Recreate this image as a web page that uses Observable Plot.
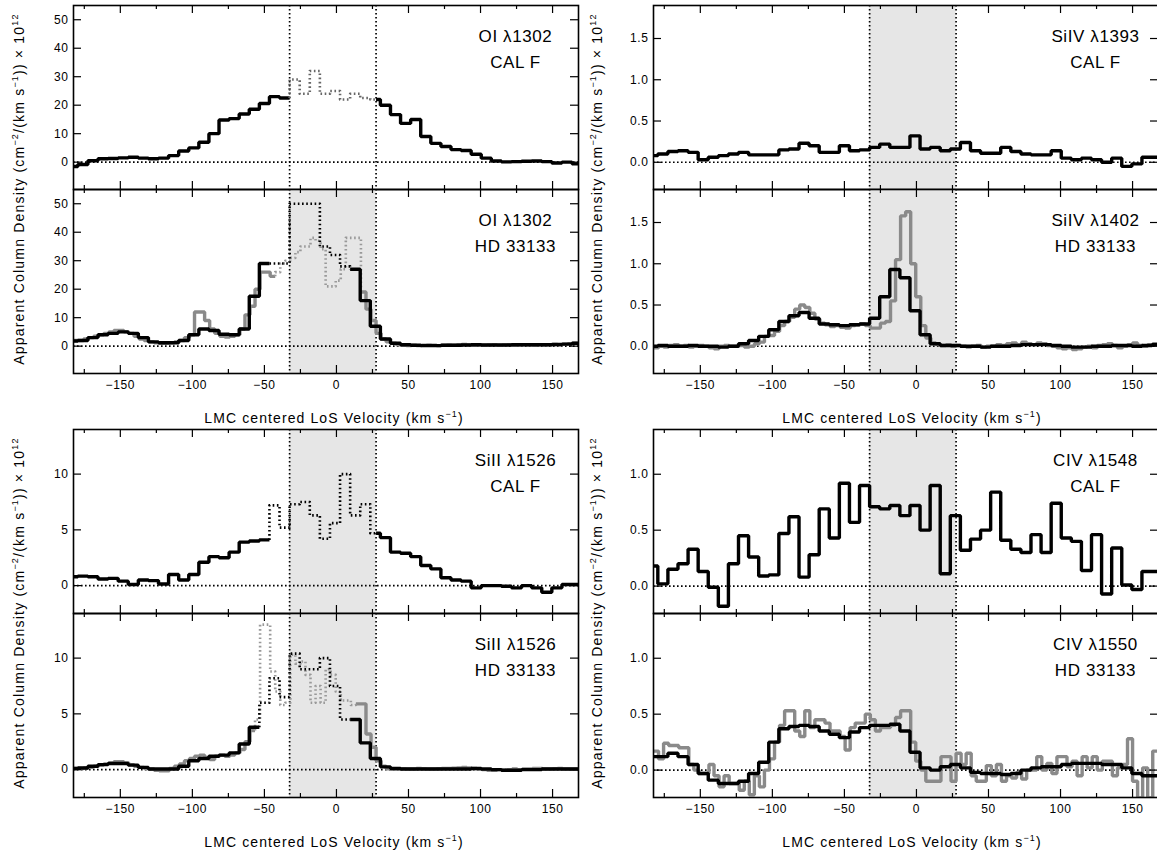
<!DOCTYPE html>
<html><head><meta charset="utf-8">
<script src="https://cdn.jsdelivr.net/npm/d3@7"></script>
<script src="https://cdn.jsdelivr.net/npm/@observablehq/plot@0.6"></script>
<style>
body{margin:0;background:#fff;font-family:"Liberation Sans",Arial,Helvetica,sans-serif;}
#root{position:relative;width:1157px;height:855px;overflow:hidden;background:#fff;}
.pn{position:absolute;}
.yt{position:absolute;transform:translate(-50%,-50%) rotate(-90deg);white-space:nowrap;font-size:14px;letter-spacing:1.2px;color:#000;z-index:5;}
.xt{position:absolute;transform:translate(-50%,-50%);white-space:nowrap;font-size:14px;letter-spacing:1.1px;color:#000;z-index:5;}
sup{font-size:9px;line-height:0;}
</style></head><body><div id="root"></div>
<script>
// ---------- data ----------
const vCoarse = [-183,-176,-169,-162,-155,-148,-141,-134,-127,-120,-113,-106,-99,-92,-85,-78,-71,-64,-57,-50,-43,-36,-29,-22,-15,-8,-1,6,13,20,27,34,41,48,55,62,69,76,83,90,97,104,111,118,125,132,139,146,153,160,167];
const vFine = [-180.75,-177.25,-173.75,-170.25,-166.75,-163.25,-159.75,-156.25,-152.75,-149.25,-145.75,-142.25,-138.75,-135.25,-131.75,-128.25,-124.75,-121.25,-117.75,-114.25,-110.75,-107.25,-103.75,-100.25,-96.75,-93.25,-89.75,-86.25,-82.75,-79.25,-75.75,-72.25,-68.75,-65.25,-61.75,-58.25,-54.75,-51.25,-47.75,-44.25,-40.75,-37.25,-33.75,-30.25,-26.75,-23.25,-19.75,-16.25,-12.75,-9.25,-5.75,-2.25,1.25,4.75,8.25,11.75,15.25,18.75,22.25,25.75,29.25,32.75,36.25,39.75,43.25,46.75,50.25,53.75,57.25,60.75,64.25,67.75,71.25,74.75,78.25,81.75,85.25,88.75,92.25,95.75,99.25,102.75,106.25,109.75,113.25,116.75,120.25,123.75,127.25,130.75,134.25,137.75,141.25,144.75,148.25,151.75,155.25,158.75,162.25,165.75];
const coarseWidth = 7, fineWidth = 3.5;

const oiCalF = [-1.5,-0.8,0.5,1.2,1.3,1.5,1.7,1.4,1.2,1.4, 2.3,3.9,5.0,7.0,10.0,14.8,15.3,16.9,18.6,20.6, 23.0,22.5,29,24,32,24,25,22,24,22.5, 22,20,16.7,13.6,15,9,6.6,5.5,4.4,4.1, 2.8,1.4,0.4,0.1,0.2,0.3,0.4,0.2,-0.3,0, -0.6];
const oiHdBlack = [1.8,2.0,3.0,4.0,4.5,5.0,4.5,3.0,1.5,1.2, 1.2,2.0,4.0,6.0,5.5,4.2,4.0,6.0,17.5,29.0, 29.0,29.0,50,50,50,35,32,28,27,16, 7,2.5,1.0,0.5,0.3,0.2,0.2,0.3,0.3,0.4, 0.5,0.4,0.4,0.4,0.5,0.5,0.5,0.5,0.6,0.7, 1.0];
const oiHdGray = [2.0,2.0,2.5,3.0,3.5,4.0,4.5,5.0,5.5,5.5, 5.0,4.5,3.5,2.5,2.0,1.5,1.2,1.0,1.0,1.2, 1.5,2.0,3.0,4.0,12.0,12.0,9.0,6.0,4.5,3.5, 3.2,3.5,4.0,6.0,11.0,14,20,26,26,24.5, 26,29,30,31,33,35,35,38,37,34, 21,21,23,27,38,38,38,19,13,9, 4.5,2.5,1.5,1.0,0.5,0.3,0.2,0.3,0.2,0.3, 0.4,0.3,0.2,0.3,0.4,0.3,0.5,0.6,0.4,0.3, 0.4,0.3,0.4,0.5,0.3,0.4,0.5,0.3,0.4,0.5, 0.4,0.3,0.5,0.4,0.5,0.6,0.5,0.7,0.9,1.0];

const siivCalF = [0.08,0.10,0.13,0.14,0.12,0.03,0.06,0.08,0.10,0.12, 0.09,0.09,0.09,0.15,0.16,0.23,0.20,0.12,0.12,0.20, 0.14,0.15,0.18,0.22,0.18,0.18,0.32,0.16,0.18,0.14, 0.16,0.24,0.14,0.11,0.11,0.18,0.13,0.10,0.09,0.09, 0.14,0.05,0.03,0.05,0.03,0.00,0.05,-0.05,-0.02,0.06, 0.06];
const siivHdBlack = [0.0,0.01,0.0,0.0,0.01,0.0,0.0,-0.01,0.0, 0.03,0.07,0.12,0.20,0.30,0.37,0.41,0.34,0.27,0.26,0.25,0.26,0.27,0.34,0.60,0.93,0.83,0.43,0.14,0.03,0.01, 0.01,0.0,0.0,-0.01,0.0,0.0,0.01,0.02,0.02,0.02,0.01,0.0,-0.01,-0.01,0.0,0.0,0.01,0.01,0.0,0.01,0.02];
const siivHdGray = [-0.02,0.0,-0.01,0.01,0.02,0.0,0.01,-0.01,0.0,0.01, 0.0,-0.02,-0.03,0.0,0.01,0.0,0.0,0.01,-0.01,0.0, 0.03,0.05,0.12,0.13,0.18,0.25,0.30,0.35,0.45,0.50, 0.47,0.40,0.33,0.28,0.26,0.24,0.25,0.23,0.22,0.25, 0.26,0.27,0.25,0.22,0.22,0.28,0.30,0.55,1.05,1.58, 1.63,1.00,0.60,0.25,0.10,0.04,0.02,0.01,0.02,0.0, 0.01,0.0,-0.01,0.0,0.01,-0.01,0.0,0.0,0.02,0.01, 0.03,0.04,0.02,0.05,0.03,0.02,0.04,0.03,0.01,0.0, -0.02,-0.03,-0.02,-0.04,-0.03,-0.01,0.0,-0.02,0.01,0.02, 0.03,0.01,-0.02,0.0,0.02,0.04,0.01,0.0,0.02,0.03];

const siiCalF = [0.8,0.85,0.8,0.6,0.65,0.4,0.1,0.5,0.45,0.15, 1.0,0.5,1.0,2.1,2.6,2.5,3.0,3.9,4.0,4.1, 7.2,5.2,7.3,7.5,6.3,4.2,5.6,10.0,6.3,7.3, 4.7,4.3,3.0,2.9,2.6,1.8,1.5,0.7,0.5,0.4, -0.2,0.0,0.0,-0.05,-0.2,0.0,-0.2,-0.6,-0.2,0.1, 0.1];
const siiHdBlack = [0.1,0.15,0.3,0.45,0.55,0.55,0.4,0.2,0.05,0.05, 0.05,0.3,0.8,1.0,1.2,1.3,1.5,2.3,3.8,6.0, 8.2,6.5,10.4,9.0,9.0,10.0,7.5,4.5,4.5,2.4, 1.0,0.25,0.1,0.05,0.05,0.05,0.05,0.05,0.05,0.05, 0.1,0.05,0.0,-0.05,-0.05,0.0,0.0,0.05,0.05,0.05, 0.05];
const siiHdGray = [0.1,0.1,0.15,0.2,0.3,0.4,0.5,0.6,0.7,0.7, 0.6,0.45,0.3,0.2,0.1,0.05,-0.05,-0.1,-0.1,0.1, 0.3,0.5,0.8,1.0,1.2,1.3,1.1,0.9,1.2,1.3, 1.2,1.3,1.5,1.8,2.5,3.5,4.5,13,13,8.8, 7.0,5.8,6.0,10.3,9.5,9.7,8.5,6.0,7.5,6.0, 9.0,8.5,7.0,6.2,6.2,5.8,5.9,5.9,3.2,2.0, 0.8,0.3,0.08,0.05,0.05,0.08,0.05,0.05,0.1,0.08, 0.05,0.05,0.08,0.1,0.1,0.12,0.15,0.2,0.15,0.1, 0.05,0.0,-0.05,-0.05,0.0,-0.05,0.0,0.05,0.0,0.05, 0.05,0.1,0.1,0.05,0.05,0.08,0.1,0.05,0.05,0.05];

const civCalF = [0.18,0.02,0.15,0.20,0.33,0.13,-0.01,-0.18,0.20,0.45, 0.26,0.09,0.10,0.47,0.62,0.08,0.28,0.69,0.43,0.92, 0.57,0.90,0.71,0.69,0.72,0.63,0.72,0.50,0.90,0.11, 0.63,0.32,0.42,0.50,0.84,0.41,0.33,0.30,0.46,0.30, 0.74,0.43,0.40,0.14,0.46,-0.07,0.34,0.01,-0.03,0.13, 0.13];
const civHdBlack = [0.12,0.12,0.15,0.12,0.05,-0.03,-0.09,-0.12,-0.12,-0.10, -0.03,0.07,0.25,0.37,0.39,0.40,0.39,0.35,0.32,0.29, 0.34,0.38,0.40,0.40,0.41,0.35,0.16,0.02,0.00,0.03, 0.05,0.02,-0.02,-0.03,-0.03,-0.04,-0.03,0.00,0.02,0.03, 0.03,0.05,0.06,0.06,0.06,0.05,0.05,0.02,-0.03,-0.05, -0.05];
const civHdGray = [0.17,0.10,0.24,0.22,0.22,0.20,0.20,0.05,0.00,-0.03, -0.03,0.05,-0.05,-0.15,-0.05,-0.12,-0.12,-0.18,-0.10,-0.22, -0.05,-0.15,0.00,0.10,0.25,0.40,0.53,0.53,0.35,0.30, 0.53,0.38,0.45,0.45,0.42,0.35,0.35,0.30,0.18,0.38, 0.42,0.42,0.50,0.45,0.35,0.38,0.38,0.40,0.47,0.53, 0.53,0.25,0.08,0.00,-0.10,-0.10,-0.10,0.12,0.12,-0.10, 0.15,0.05,0.15,-0.05,-0.10,-0.10,0.04,-0.05,0.05,-0.10, -0.05,-0.07,-0.02,-0.08,0.00,0.00,0.12,0.00,0.06,-0.03, 0.12,0.12,0.03,0.08,-0.05,0.12,0.02,0.12,0.00,0.08, 0.08,-0.05,0.02,0.05,0.28,-0.10,-0.25,0.02,-0.25,0.17];

const velWindow = [-32.5, 27.5];
const xDomain = [-182.5, 168];
const xTicksMajor = [-150,-100,-50,0,50,100,150];
const xTicksMinor = [-175,-125,-75,-25,25,75,125];
const oiTicks = [0,10,20,30,40,50];
const siivTicks = [0,0.5,1,1.5];
const siiTicks = [0,5,10];
const civTicks = [0,0.5,1];
const oiDomain = [-9.6, 55];
const siivDomain = [-0.33, 1.9];
const siiDomain = [-2.5, 14];
const civDomain = [-0.245, 1.4];
const noDots = [Infinity, Infinity];

// ---------- helpers ----------
const FW = 505, FH = 184, ML = 60, MR = 2, MT = 2;
function steps(vs, ys, w) {
  const pts = [];
  vs.forEach((v, i) => { pts.push({v: v - w / 2, y: ys[i]}, {v: v + w / 2, y: ys[i]}); });
  return pts;
}
function splitLine(pts, lo, hi) {
  const out = []; let cur = null, id = 0;
  const region = (p, q) => {
    if (p.v === q.v && (p.v === lo || p.v === hi)) return "dot";
    const x = (p.v + q.v) / 2;
    return (x > lo && x < hi) ? "dot" : "solid";
  };
  for (let i = 0; i < pts.length - 1; i++) {
    const a = pts[i], b = pts[i + 1];
    const cuts = [a];
    for (const c of [lo, hi]) if (a.v < c && b.v > c) cuts.push({v: c, y: a.y});
    cuts.push(b);
    for (let j = 0; j < cuts.length - 1; j++) {
      const p = cuts[j], q = cuts[j + 1];
      const r = region(p, q);
      if (!cur || cur.r !== r) { cur = {r, id: id++}; out.push({v: p.v, y: p.y, r, id: cur.id}); }
      out.push({v: q.v, y: q.y, r, id: cur.id});
    }
  }
  return out;
}
const black = "#000", gray = "#8a8a8a";
const fmtInt = d3.format("d"), fmt1 = d3.format(".1f");

const panels = [
  {left: 73.3, top: 5, xAxis: false, shade: false, label: ["OI \u03bb1302", "CAL F"], yDomain: oiDomain, yTicks: oiTicks, fmt: fmtInt,
   series: [{v: vCoarse, y: oiCalF, w: coarseWidth, color: black, dot: velWindow, dotColor: "#666"}]},
  {left: 73.3, top: 189, xAxis: true, shade: true, label: ["OI \u03bb1302", "HD 33133"], yDomain: oiDomain, yTicks: oiTicks, fmt: fmtInt,
   series: [{v: vFine, y: oiHdGray, w: fineWidth, color: gray, dot: [-42.5, 17], dotColor: "#999"},
            {v: vCoarse, y: oiHdBlack, w: coarseWidth, color: black, dot: [-46.5, 9.5], dotColor: "#000"}]},
  {left: 652.7, top: 5, xAxis: false, shade: true, label: ["SiIV \u03bb1393", "CAL F"], yDomain: siivDomain, yTicks: siivTicks, fmt: fmt1,
   series: [{v: vCoarse, y: siivCalF, w: coarseWidth, color: black, dot: noDots}]},
  {left: 652.7, top: 189, xAxis: true, shade: true, label: ["SiIV \u03bb1402", "HD 33133"], yDomain: siivDomain, yTicks: siivTicks, fmt: fmt1,
   series: [{v: vFine, y: siivHdGray, w: fineWidth, color: gray, dot: noDots},
            {v: vCoarse, y: siivHdBlack, w: coarseWidth, color: black, dot: noDots}]},
  {left: 73.3, top: 429, xAxis: false, shade: true, label: ["SiII \u03bb1526", "CAL F"], yDomain: siiDomain, yTicks: siiTicks, fmt: fmtInt,
   series: [{v: vCoarse, y: siiCalF, w: coarseWidth, color: black, dot: [-46.5, 27.5], dotColor: "#000"}]},
  {left: 73.3, top: 613, xAxis: true, shade: true, label: ["SiII \u03bb1526", "HD 33133"], yDomain: siiDomain, yTicks: siiTicks, fmt: fmtInt,
   series: [{v: vFine, y: siiHdGray, w: fineWidth, color: gray, dot: [-56.5, 13.5], dotColor: "#999"},
            {v: vCoarse, y: siiHdBlack, w: coarseWidth, color: black, dot: [-53.5, 9.5], dotColor: "#000"}]},
  {left: 652.7, top: 429, xAxis: false, shade: true, label: ["CIV \u03bb1548", "CAL F"], yDomain: civDomain, yTicks: civTicks, fmt: fmt1,
   series: [{v: vCoarse, y: civCalF, w: coarseWidth, color: black, dot: noDots}]},
  {left: 652.7, top: 613, xAxis: true, shade: true, label: ["CIV \u03bb1550", "HD 33133"], yDomain: civDomain, yTicks: civTicks, fmt: fmt1,
   series: [{v: vFine, y: civHdGray, w: fineWidth, color: gray, dot: noDots},
            {v: vCoarse, y: civHdBlack, w: coarseWidth, color: black, dot: noDots}]}
];

function makePanel(p) {
  const [y0, y1] = p.yDomain, [x0, x1] = xDomain;
  const ky = (y1 - y0) / FH, kx = (x1 - x0) / FW;
  const MB = p.xAxis ? 30 : 2;
  const marks = [];
  if (p.shade) marks.push(Plot.rect([velWindow], {x1: d => d[0], x2: d => d[1], y1: y0, y2: y1, fill: "#e6e6e6"}));
  marks.push(Plot.ruleY([0], {stroke: "#000", strokeWidth: 1.7, strokeDasharray: "1.6,2.4"}));
  marks.push(Plot.ruleX(velWindow, {stroke: "#000", strokeWidth: 1.7, strokeDasharray: "1.6,2.4"}));
  for (const s of p.series) {
    const pts = splitLine(steps(s.v, s.y, s.w), s.dot[0], s.dot[1]);
    marks.push(Plot.line(pts.filter(d => d.r === "solid"), {x: "v", y: "y", z: "id", stroke: s.color, strokeWidth: 3.4, strokeLinejoin: "miter", strokeLinecap: "butt", curve: "linear", clip: true}));
    const dots = pts.filter(d => d.r === "dot");
    if (dots.length) marks.push(Plot.line(dots, {x: "v", y: "y", z: "id", stroke: s.dotColor, strokeWidth: 2.6, strokeDasharray: "1.6,2.6", strokeLinecap: "butt", curve: "linear", clip: true}));
  }
  // inward ticks on all four sides
  marks.push(Plot.ruleX(xTicksMajor, {x: d => d, y1: y0, y2: y0 + 8 * ky, stroke: "#000", strokeWidth: 1.2}));
  marks.push(Plot.ruleX(xTicksMajor, {x: d => d, y1: y1, y2: y1 - 8 * ky, stroke: "#000", strokeWidth: 1.2}));
  marks.push(Plot.ruleX(xTicksMinor, {x: d => d, y1: y0, y2: y0 + 4 * ky, stroke: "#000", strokeWidth: 1.2}));
  marks.push(Plot.ruleX(xTicksMinor, {x: d => d, y1: y1, y2: y1 - 4 * ky, stroke: "#000", strokeWidth: 1.2}));
  marks.push(Plot.ruleY(p.yTicks, {y: d => d, x1: x0, x2: x0 + 8 * kx, stroke: "#000", strokeWidth: 1.2}));
  marks.push(Plot.ruleY(p.yTicks, {y: d => d, x1: x1, x2: x1 - 8 * kx, stroke: "#000", strokeWidth: 1.2}));
  marks.push(Plot.frame({stroke: "#000", strokeWidth: 1.6}));
  marks.push(Plot.axisY({ticks: p.yTicks, anchor: "left", tickSize: 0, tickPadding: 5, tickFormat: p.fmt, fontSize: 12, label: null}));
  if (p.xAxis) marks.push(Plot.axisX({ticks: xTicksMajor, anchor: "bottom", tickSize: 0, tickPadding: 7, fontSize: 12, label: null}));
  marks.push(Plot.text([p.label[0]], {text: d => d, frameAnchor: "top-right", textAnchor: "middle", dx: -63, dy: 24, fontSize: 17, fill: "#000"}));
  marks.push(Plot.text([p.label[1]], {text: d => d, frameAnchor: "top-right", textAnchor: "middle", dx: -63, dy: 50, fontSize: 17, fill: "#000"}));
  const svg = Plot.plot({
    width: ML + FW + MR, height: MT + FH + MB,
    marginLeft: ML, marginRight: MR, marginTop: MT, marginBottom: MB,
    x: {domain: xDomain, label: null, axis: p.xAxis ? undefined : null},
    y: {domain: p.yDomain, label: null},
    style: {background: "transparent", overflow: "visible", fontFamily: "'Liberation Sans', Arial, sans-serif", fontSize: "12px", color: "#000", maxWidth: "none", letterSpacing: "0.6px"},
    marks
  });
  const div = document.createElement("div");
  div.className = "pn";
  div.style.left = (p.left - ML) + "px";
  div.style.top = (p.top - MT) + "px";
  div.appendChild(svg);
  return div;
}

const root = document.getElementById("root");
for (const p of panels) root.appendChild(makePanel(p));

const yTitle = 'Apparent Column Density (cm<sup>\u22122</sup>/(km s<sup>\u22121</sup>)) \u00d7 10<sup>12</sup>';
const xTitle = 'LMC centered LoS Velocity (km s<sup>\u22121</sup>)';
for (const [x, y] of [[19, 189], [597, 189], [19, 613], [597, 613]]) {
  const d = document.createElement("div"); d.className = "yt"; d.style.left = x + "px"; d.style.top = y + "px"; d.innerHTML = yTitle; root.appendChild(d);
}
for (const [x, y] of [[334, 418], [912, 418], [334, 842], [912, 842]]) {
  const d = document.createElement("div"); d.className = "xt"; d.style.left = x + "px"; d.style.top = y + "px"; d.innerHTML = xTitle; root.appendChild(d);
}
</script></body></html>
